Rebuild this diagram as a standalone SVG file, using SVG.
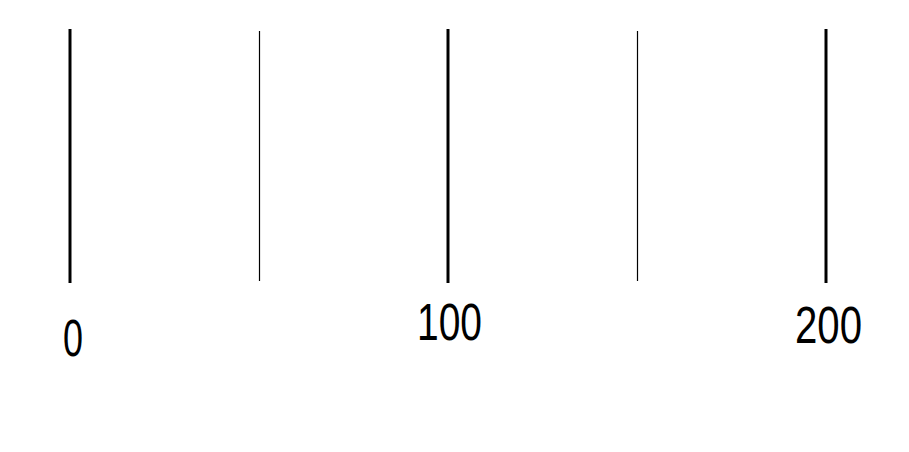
<svg xmlns="http://www.w3.org/2000/svg" width="909" height="452" viewBox="0 0 909 452">
<style>
.major{stroke:#000;stroke-width:3}
.minor{stroke:#000;stroke-width:1.2}
.lbl{font-family:"Liberation Sans",Arial,sans-serif;font-size:52px;fill:#000}
</style>
<rect width="909" height="452" fill="#fff"/>
<g id="ticks">
<line id="t0" class="major" x1="70" y1="29" x2="70" y2="283"/>
<line id="t50" class="minor" x1="259.5" y1="31" x2="259.5" y2="281"/>
<line id="t100" class="major" x1="448" y1="29" x2="448" y2="283"/>
<line id="t150" class="minor" x1="637.5" y1="31" x2="637.5" y2="281"/>
<line id="t200" class="major" x1="826" y1="29" x2="826" y2="283"/>
</g>
<g id="labels">
<text class="lbl" x="63" y="356" textLength="20" lengthAdjust="spacingAndGlyphs">0</text>
<text class="lbl" x="417" y="340" textLength="65" lengthAdjust="spacingAndGlyphs">100</text>
<text class="lbl" x="795" y="343" textLength="67" lengthAdjust="spacingAndGlyphs">200</text>
</g>
</svg>
